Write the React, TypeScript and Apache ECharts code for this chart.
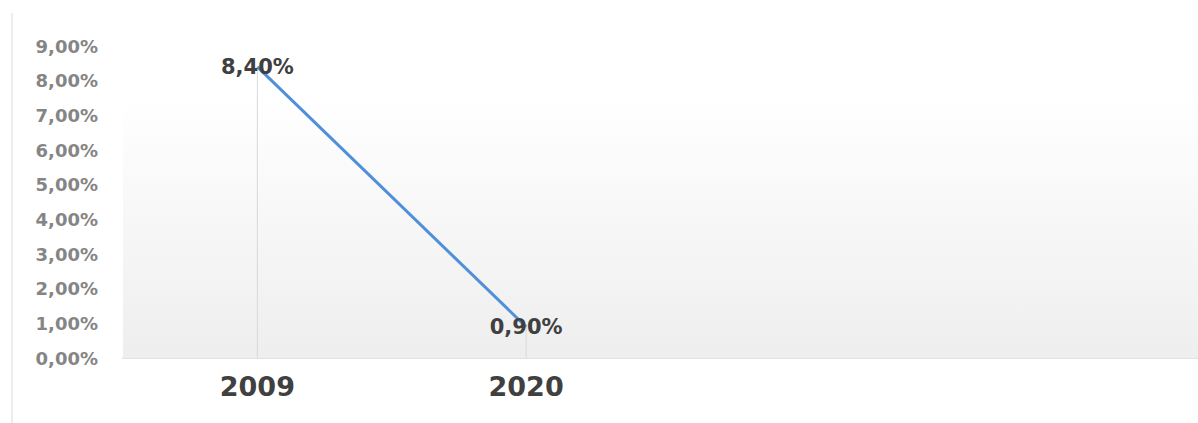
import React, { useEffect, useRef } from "react";
import * as echarts from "echarts";

const categories = ["2009", "2020", "", ""];
const values = [8.4, 0.9, null, null];
const yTicks = { min: 0, max: 9, interval: 1 };
const shadeTop = 7.5;

const fmt = (v: number) => v.toFixed(2).replace(".", ",") + "%";

export default function App() {
  const ref = useRef<HTMLDivElement>(null);
  useEffect(() => {
    if (!ref.current) return;
    const chart = echarts.init(ref.current, undefined, { renderer: "svg" });
    chart.setOption({
      animation: false,
      backgroundColor: "#ffffff",
      grid: { left: 123, top: 46, bottom: 65, right: 0, containLabel: false },
      graphic: [
        {
          type: "line",
          shape: { x1: 12, y1: 13, x2: 12, y2: 423 },
          style: { stroke: "#d9d9d9", lineWidth: 1 },
          z: 0,
        },
      ],
      xAxis: {
        type: "category",
        data: categories,
        boundaryGap: true,
        axisLine: { show: true, lineStyle: { color: "#e2e2e2", width: 2 } },
        axisTick: { show: false },
        splitLine: { show: false },
        axisLabel: {
          margin: 15,
          fontFamily: "DejaVu Sans",
          fontWeight: "bold",
          fontSize: 27,
          color: "#404040",
        },
      },
      yAxis: {
        type: "value",
        min: yTicks.min,
        max: yTicks.max,
        interval: yTicks.interval,
        axisLine: { show: false },
        axisTick: { show: false },
        splitLine: { show: false },
        axisLabel: {
          margin: 25,
          fontFamily: "DejaVu Sans",
          fontWeight: "bold",
          fontSize: 18,
          color: "#858585",
          formatter: (v: number) => fmt(v),
        },
      },
      series: [
        {
          type: "bar",
          data: values,
          barWidth: 1,
          itemStyle: { color: "#d9d9d9" },
          silent: true,
          z: 1,
          markArea: {
            silent: true,
            itemStyle: {
              color: new echarts.graphic.LinearGradient(0, 0, 0, 1, [
                { offset: 0, color: "#ffffff" },
                { offset: 1, color: "#eeeeee" },
              ]),
            },
            data: [[{ yAxis: shadeTop }, { yAxis: 0 }]],
          },
        },
        {
          type: "line",
          data: values,
          symbol: "circle",
          symbolSize: 0.1,
          showSymbol: true,
          itemStyle: { color: "#5090da" },
          lineStyle: { color: "#5090da", width: 3 },
          z: 3,
          label: {
            show: true,
            position: "inside",
            fontFamily: "DejaVu Sans",
            fontWeight: "bold",
            fontSize: 21,
            color: "#404040",
            formatter: (p: any) => fmt(p.value),
          },
        },
      ],
    });
    return () => chart.dispose();
  }, []);
  return (
    <div
      ref={ref}
      style={{ position: "fixed", left: 0, top: 0, width: 1198, height: 423 }}
    />
  );
}
